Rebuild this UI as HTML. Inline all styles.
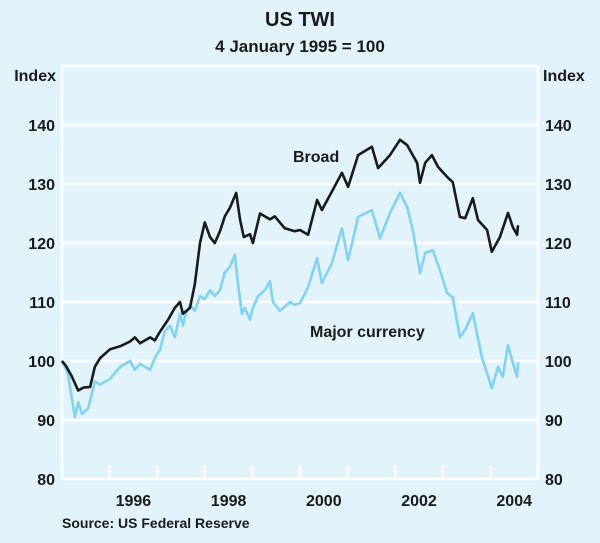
<!DOCTYPE html>
<html><head><meta charset="utf-8"><style>
body{margin:0;background:#e2f3fc;}
svg{display:block;font-family:"Liberation Sans",Arial,sans-serif;}
</style></head><body>
<svg id="chart" width="600" height="543">
<rect width="600" height="543" fill="#e2f3fc"/>
<text x="300" y="26" text-anchor="middle" font-size="20" font-weight="bold" fill="#1a1a1a">US TWI</text>
<text x="300" y="52" text-anchor="middle" font-size="17" font-weight="bold" fill="#1a1a1a">4 January 1995 = 100</text>
<text x="56" y="81" text-anchor="end" font-size="16" font-weight="bold" fill="#1a1a1a">Index</text>
<text x="543" y="81" font-size="16" font-weight="bold" fill="#1a1a1a">Index</text>
<g id="grid"></g>
<g id="series"></g>
<text x="293" y="162" font-size="16" font-weight="bold" fill="#1a1a1a">Broad</text>
<text x="310" y="337" font-size="16" font-weight="bold" fill="#1a1a1a">Major currency</text>
<text x="62" y="528" font-size="14" font-weight="bold" fill="#1a1a1a">Source: US Federal Reserve</text>
</svg>
<script>
const yTicks=[80,90,100,110,120,130,140];
const xTickYears=[1995,1996,1997,1998,1999,2000,2001,2002,2003,2004,2005];
const xLabels=[1996,1998,2000,2002,2004];
const broadDates=[1995.00,1995.08,1995.20,1995.34,1995.45,1995.59,1995.69,1995.80,1996.01,1996.22,1996.43,1996.53,1996.64,1996.85,1996.95,1997.06,1997.23,1997.37,1997.48,1997.54,1997.69,1997.79,1997.90,1998.00,1998.11,1998.21,1998.32,1998.42,1998.53,1998.66,1998.74,1998.82,1998.95,1999.01,1999.16,1999.37,1999.47,1999.68,1999.89,2000.00,2000.17,2000.36,2000.46,2000.69,2000.88,2001.01,2001.22,2001.51,2001.64,2001.89,2002.10,2002.25,2002.46,2002.52,2002.63,2002.77,2002.90,2003.09,2003.21,2003.36,2003.47,2003.63,2003.74,2003.93,2004.03,2004.20,2004.37,2004.47,2004.56,2004.58];
const broadValues=[100,99.2,97.5,95,95.5,95.6,99,100.5,102,102.5,103.3,104,103,104,103.5,105,107,109,110,108,109,113,120,123.5,121,120,122,124.5,126,128.5,124,121,121.5,120,125,124,124.5,122.5,122,122.2,121.4,127.3,125.6,129,131.9,129.5,134.9,136.3,132.7,134.9,137.5,136.6,133.6,130.2,133.6,134.9,132.9,131.2,130.3,124.4,124.2,127.6,123.9,122.2,118.5,121,125.1,122.7,121.4,123];
const majorDates=[1995.00,1995.12,1995.27,1995.34,1995.42,1995.55,1995.69,1995.80,1996.01,1996.22,1996.43,1996.53,1996.64,1996.85,1996.95,1997.06,1997.16,1997.27,1997.37,1997.48,1997.54,1997.58,1997.69,1997.79,1997.90,1998.00,1998.11,1998.21,1998.32,1998.42,1998.53,1998.63,1998.70,1998.78,1998.84,1998.95,1999.01,1999.12,1999.26,1999.37,1999.43,1999.58,1999.79,1999.89,2000.00,2000.17,2000.36,2000.46,2000.67,2000.88,2001.01,2001.22,2001.51,2001.68,2001.89,2002.10,2002.25,2002.37,2002.52,2002.63,2002.79,2002.94,2003.09,2003.21,2003.36,2003.47,2003.63,2003.82,2004.03,2004.16,2004.26,2004.37,2004.47,2004.56,2004.58];
const majorValues=[100,98,90.5,93,91,92,96.5,96,97,99,100,98.5,99.5,98.5,100.5,102,105,106,104,108,106,107.5,109.5,108.5,111,110.5,112,111,112,115,116,118,113,108,109,107,109,111,112,113.5,110,108.5,110,109.5,109.8,112.5,117.4,113.2,116.6,122.5,117.1,124.4,125.6,120.8,125.1,128.5,126.1,122.2,114.9,118.3,118.8,115.4,111.5,110.8,104,105.3,108.1,100.7,95.4,99,97.3,102.7,99.7,97.3,99.8];
const L=62,R=538,T=66,B=479;
const xs=t=>L+(t-1995)*(R-L)/10;
const ys=v=>B-(v-80)*(B-T)/70;
const NS='http://www.w3.org/2000/svg';
const grid=document.getElementById('grid');
function mk(tag,attrs,parent){const e=document.createElementNS(NS,tag);for(const k in attrs)e.setAttribute(k,attrs[k]);parent.appendChild(e);return e;}
yTicks.forEach(v=>{
 const g=mk('line',{x1:L,x2:R,y1:ys(v),y2:ys(v),stroke:'#fff','stroke-width':2.5},grid);
 
 
 const a=mk('text',{x:55,y:ys(v)+6,'text-anchor':'end','font-size':16,'font-weight':'bold',fill:'#1a1a1a'},grid);a.textContent=v;
 
 
 const b=mk('text',{x:545,y:ys(v)+6,'font-size':16,'font-weight':'bold',fill:'#1a1a1a'},grid);b.textContent=v;
 
 
});
[['left',L],['right',R]].forEach(([n,x])=>{const e=mk('line',{x1:x,x2:x,y1:T,y2:B,stroke:'#fff','stroke-width':2.5},grid);
 
 });
const topBorder=mk('line',{x1:L,x2:R,y1:T,y2:T,stroke:'#fff','stroke-width':2.5},grid);


xTickYears.forEach(y=>{const e=mk('line',{x1:xs(y),x2:xs(y),y1:B-13,y2:B,stroke:'#fff','stroke-width':2.5},grid);
 
 });
xLabels.forEach(y=>{const e=mk('text',{x:xs(y+0.5),y:506,'text-anchor':'middle','font-size':16,'font-weight':'bold',fill:'#1a1a1a'},grid);e.textContent=y;
 
 });
const ser=document.getElementById('series');
function line(d,v,col,name){const p=d.map((t,i)=>(i?'L':'M')+xs(t).toFixed(1)+','+ys(v[i]).toFixed(1)).join('');
 const e=mk('path',{d:p,fill:'none',stroke:col,'stroke-width':2.6,'stroke-linejoin':'round'},ser);
 
 }
line(majorDates,majorValues,'#80d3f6','major-currency-line');
line(broadDates,broadValues,'#1a1a1a','broad-line');
</script>
</body></html>
